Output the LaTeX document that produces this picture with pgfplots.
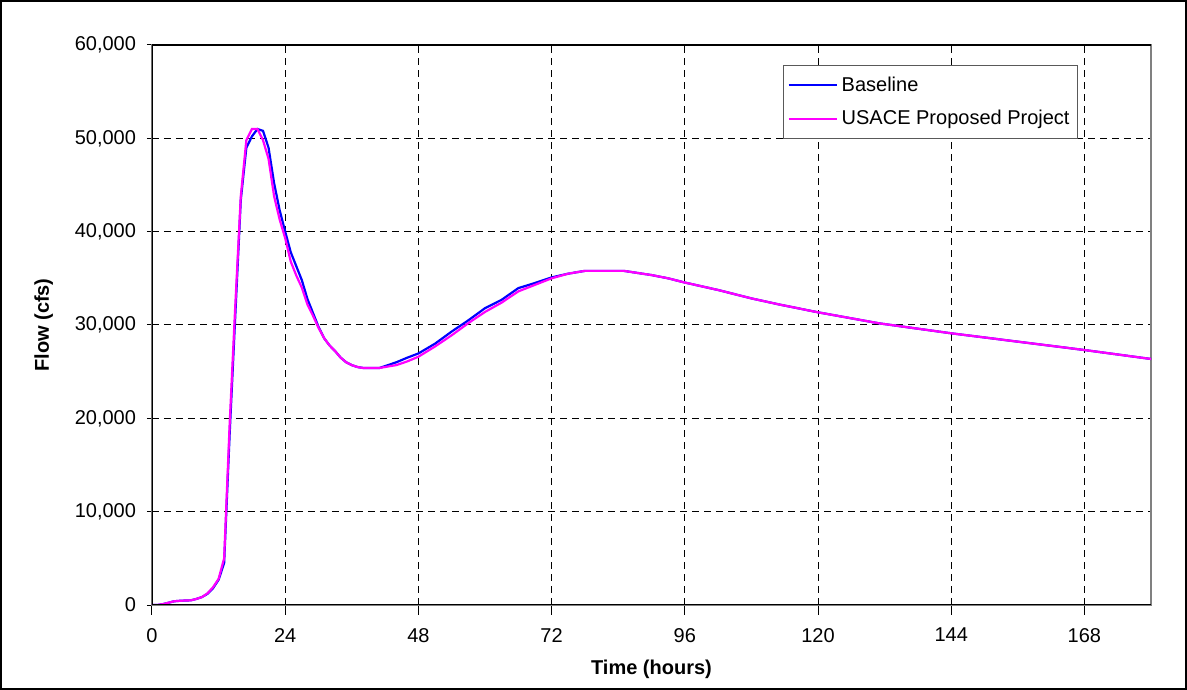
\documentclass[border=0pt]{standalone}
\usepackage{fontspec}
\setmainfont{Liberation Sans}
\usepackage{pgfplots}
\pgfplotsset{compat=1.18}
\usepackage{pgfplotstable}
\definecolor{mag}{RGB}{255,0,255}
\definecolor{blu}{RGB}{0,0,255}
\pgfplotstableread{
t y
0 0
1 0
2 100
3 250
4 400
5 450
6 480
7 500
8 650
9 850
10 1200
11 1800
12 2700
13 4500
14 18400
15 30900
16 43400
17 49000
18 50200
19 51000
20 50800
21 49000
22 45200
23 42300
24 40000
25 37800
26 36300
27 34800
28 32800
29 31300
30 29800
31 28600
32 27800
33 27200
34 26500
35 26000
36 25700
37 25500
38 25400
40 25400
41 25400
42 25600
44 26000
46 26500
48 26950
51 28000
54 29300
57 30500
60 31800
63 32700
66 33950
69 34500
72 35100
75 35500
78 35800
85 35800
90 35350
93 35000
96 34550
102 33750
108 32850
113 32200
120 31360
131 30180
144 29110
155 28290
168 27320
180 26360
}\baseline
\pgfplotstableread{
t y
0 0
1 0
2 100
3 250
4 400
5 450
6 480
7 500
8 650
9 850
10 1250
11 1900
12 2800
13 5000
14 19500
15 32000
16 43800
17 49800
18 51000
19 51000
20 49800
21 47800
22 43800
23 41300
24 39300
25 36800
26 35300
27 34000
28 32200
29 31000
30 29700
31 28600
32 27800
33 27200
34 26500
35 26000
36 25700
37 25500
38 25400
40 25400
41 25400
42 25500
44 25700
46 26100
48 26600
51 27700
54 28900
57 30200
60 31400
63 32400
66 33600
69 34300
72 35000
75 35500
78 35800
85 35800
90 35350
93 35000
96 34550
102 33750
108 32850
113 32200
120 31360
131 30180
144 29110
155 28290
168 27320
180 26360
}\proposed
\begin{document}
\begin{tikzpicture}
\begin{axis}[
  at={(0,0)}, anchor=south west,
  scale only axis,
  width=499.5bp, height=280bp,
  xmin=0, xmax=180, ymin=0, ymax=60000,
  xtick={0,24,...,168},
  ytick={0,10000,...,60000},
  scaled y ticks=false,
  /pgf/number format/.cd, 1000 sep={,}, assume math mode=true, /pgfplots/.cd,
  tick label style={font=\fontsize{10bp}{12bp}\selectfont},
  xticklabel style={yshift=-3bp},
  yticklabel style={xshift=-2bp},
  x tick style={black, line width=0.5bp},
  y tick style={black, line width=0.5bp},
  xtick pos=bottom, ytick pos=left,
  xtick align=outside,
  ytick align=center,
  major tick length=5bp,
  grid=major,
  major grid style={black, dash pattern=on 3.5bp off 2.5bp, line width=0.5bp},
  axis line style={gray, line width=0.7bp},
  xlabel={\textbf{Time (hours)}},
  ylabel={\textbf{Flow (cfs)}},
  label style={font=\fontsize{10bp}{12bp}\selectfont},
  xlabel style={yshift=-2bp},
  ylabel style={yshift=4bp},
  legend style={at={(0.927,0.964)}, anchor=north east, draw=gray!70!black,
    line width=0.5bp, font=\fontsize{10bp}{12bp}\selectfont,
    row sep=4bp, inner xsep=2bp, inner ysep=3.5bp},
  legend cell align=left,
  legend image code/.code={\draw[#1, line width=1bp] (0bp,0bp) -- (24bp,0bp);},
]
\addplot[blu, line width=1.1bp] table[x=t,y=y] {\baseline};
\addlegendentry{Baseline}
\addplot[mag, line width=1.1bp] table[x=t,y=y] {\proposed};
\addlegendentry{USACE Proposed Project}
\draw[black, line width=0.7bp] (rel axis cs:0,1) -- (rel axis cs:0,0) -- (rel axis cs:1,0);
\draw[black, line width=0.7bp] (rel axis cs:0,1) -- (rel axis cs:1,1);
\end{axis}
\draw[black, line width=1bp] (-75.5bp,-42bp) rectangle (517bp,302bp);
\end{tikzpicture}
\end{document}
